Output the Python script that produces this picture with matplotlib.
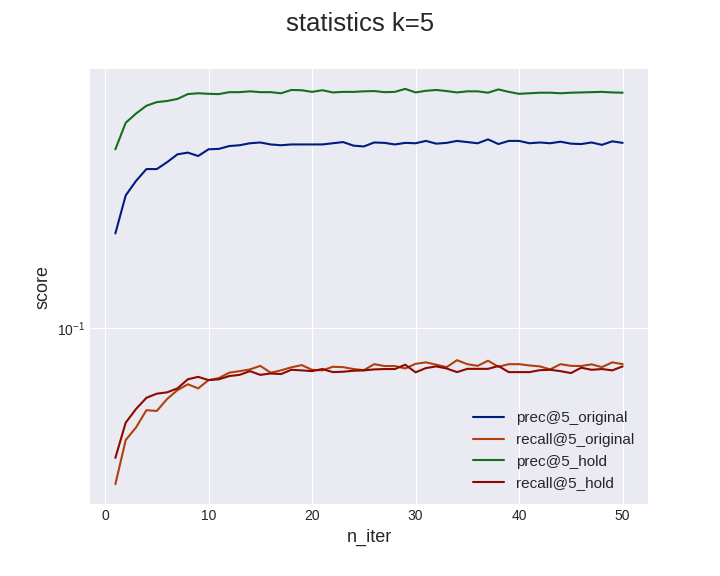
import matplotlib
matplotlib.use("Agg")
import matplotlib.pyplot as plt

n_iter = list(range(1, 51))

prec_original = [0.194, 0.253, 0.280, 0.304, 0.304, 0.319, 0.337, 0.341, 0.333, 0.349,
                 0.350, 0.357, 0.359, 0.364, 0.366, 0.361, 0.359, 0.361, 0.361, 0.361,
                 0.361, 0.364, 0.367, 0.358, 0.356, 0.366, 0.365, 0.361, 0.365, 0.364,
                 0.370, 0.363, 0.365, 0.370, 0.367, 0.364, 0.374, 0.362, 0.370, 0.370,
                 0.364, 0.366, 0.364, 0.368, 0.363, 0.362, 0.366, 0.360, 0.369, 0.365]

recall_original = [0.0337, 0.0459, 0.0501, 0.0565, 0.0562, 0.0611, 0.0650, 0.0677, 0.0658, 0.0697,
                   0.0707, 0.0734, 0.0742, 0.0751, 0.0770, 0.0734, 0.0746, 0.0762, 0.0774, 0.0749,
                   0.0746, 0.0765, 0.0763, 0.0753, 0.0747, 0.0779, 0.0769, 0.0769, 0.0756, 0.0781,
                   0.0789, 0.0776, 0.0763, 0.0801, 0.0779, 0.0770, 0.0798, 0.0765, 0.0779, 0.0779,
                   0.0772, 0.0767, 0.0751, 0.0779, 0.0770, 0.0769, 0.0778, 0.0763, 0.0789, 0.0779]

prec_hold = [0.349, 0.420, 0.448, 0.473, 0.485, 0.489, 0.496, 0.513, 0.516, 0.514,
             0.513, 0.520, 0.520, 0.523, 0.520, 0.520, 0.516, 0.528, 0.527, 0.521,
             0.527, 0.519, 0.521, 0.521, 0.523, 0.524, 0.520, 0.521, 0.532, 0.519,
             0.525, 0.528, 0.524, 0.519, 0.523, 0.523, 0.518, 0.530, 0.521, 0.514,
             0.516, 0.518, 0.518, 0.516, 0.518, 0.519, 0.520, 0.521, 0.519, 0.518]

recall_hold = [0.0405, 0.0518, 0.0570, 0.0616, 0.0634, 0.0640, 0.0658, 0.0701, 0.0713, 0.0697,
               0.0701, 0.0717, 0.0723, 0.0742, 0.0723, 0.0730, 0.0727, 0.0749, 0.0746, 0.0742,
               0.0753, 0.0737, 0.0739, 0.0744, 0.0746, 0.0751, 0.0753, 0.0753, 0.0776, 0.0736,
               0.0758, 0.0767, 0.0756, 0.0737, 0.0754, 0.0754, 0.0754, 0.0769, 0.0737, 0.0737,
               0.0737, 0.0747, 0.0749, 0.0742, 0.0732, 0.0760, 0.0749, 0.0753, 0.0746, 0.0767]

series = [
    ("prec@5_original", prec_original, "#001c7f"),
    ("recall@5_original", recall_original, "#b1400d"),
    ("prec@5_hold", prec_hold, "#12711c"),
    ("recall@5_hold", recall_hold, "#8c0800"),
]

plt.style.use("seaborn-v0_8-darkgrid")
plt.rcParams["font.family"] = ["Liberation Sans", "DejaVu Sans"]

fig = plt.figure(figsize=(7.2, 5.76), dpi=100)
ax = fig.add_subplot(111)
fig.subplots_adjust(left=0.125, right=0.9, top=0.88, bottom=0.125)

for label, vals, color in series:
    ax.plot(n_iter, vals, color=color, lw=1.5, label=label)

ax.set_yscale("log")
ax.tick_params(labelsize=10)
ax.set_xlabel("n_iter", fontsize=13)
ax.set_ylabel("score", fontsize=13)
ax.legend(loc="lower right", fontsize=11)
fig.suptitle("statistics k=5", fontsize=18.5)

fig.savefig("out.png", dpi=100)
